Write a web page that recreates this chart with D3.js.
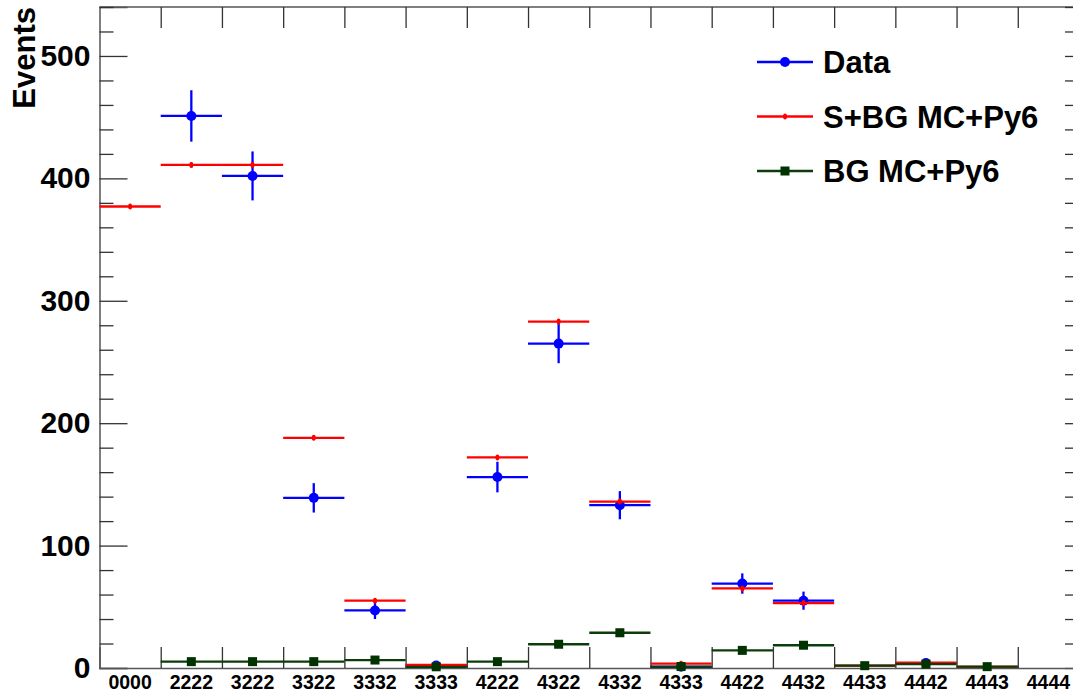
<!DOCTYPE html>
<html>
<head>
<meta charset="utf-8">
<script src="https://cdn.jsdelivr.net/npm/d3@7"></script>
<style>
  body { margin: 0; background: #fff; }
  svg { display: block; font-family: 'Liberation Sans', Arial, sans-serif; }
</style>
</head>
<body>
<div id="chart"></div>
<script>
const categories = ['0000', '2222', '3222', '3322', '3332', '3333', '4222', '4322',
  '4332', '4333', '4422', '4432', '4433', '4442', '4443', '4444'];

// Data (blue)
const dataValues = [null, 451, 402, 139, 47, 2, 156, 265, 133, 1, 69, 55, null, 4, null, null];
const dataErrors = [0, 21, 20, 12, 7, 1.4, 12.5, 16, 11.5, 1, 8.3, 7.4, 0, 2, 0, 0];

// S+BG MC+Py6 (red)
const sbgValues = [377, 411, 411, 188, 55, 2.5, 172, 283, 136, 3.5, 65, 53, 2, 4.3, 1, null];
const sbgErrors = [1.5, 2, 2, 1.5, 1, 0.3, 1.5, 2, 1.5, 0.3, 1, 1, 0.3, 0.3, 0.2, 0];

// BG MC+Py6 (dark green)
const bgValues = [null, 5.2, 5.2, 5.2, 6.5, 1, 5.2, 19.4, 28.8, 1.2, 14.4, 18.6, 1.9, 3.2, 1.1, null];

const yMajorTicks = [0, 100, 200, 300, 400, 500];

const width = 1073, height = 698;
const plotLeft = 99.5, plotRight = 1079, plotTop = 7, plotBottom = 668;

const svg = d3.select('#chart').append('svg')
  .attr('width', width).attr('height', height);

const x = d3.scaleLinear().domain([0, categories.length]).range([plotLeft, plotRight]);
const xBand = d3.scaleBand().domain(categories).range([plotLeft, plotRight]).padding(0);
const y = d3.scaleLinear().domain([0, 540]).range([plotBottom, plotTop]);

const yMinorTicks = d3.range(0, 541, 20).filter(v => v % 100 !== 0);
const edges = d3.range(1, categories.length);
const axisColor = '#555';

// frame line on top
svg.append('line').attr('x1', plotLeft).attr('x2', plotRight).attr('y1', plotTop).attr('y2', plotTop)
  .attr('stroke', axisColor).attr('stroke-width', 1.5);

// left axis: major with labels, minor without
const yAxis = svg.append('g').attr('class', 'y-axis')
  .attr('transform', `translate(${plotLeft},0)`)
  .call(d3.axisLeft(y).tickValues(yMajorTicks).tickSize(-28).tickPadding(9));
yAxis.select('.domain').attr('stroke', axisColor).attr('stroke-width', 1.5);
yAxis.selectAll('line').attr('stroke', '#333').attr('stroke-width', 1.3);
yAxis.selectAll('text')
  .style('font-size', '30px').style('font-weight', 'bold').attr('fill', '#000');

const yMinor = svg.append('g')
  .attr('transform', `translate(${plotLeft},0)`)
  .call(d3.axisLeft(y).tickValues(yMinorTicks).tickSize(-14).tickFormat(''));
yMinor.select('.domain').remove();
yMinor.selectAll('line').attr('stroke', '#333').attr('stroke-width', 1.3);

// right axis ticks
const yRight = svg.append('g')
  .attr('transform', `translate(${plotRight},0)`)
  .call(d3.axisRight(y).tickValues(d3.range(0, 541, 20)).tickSize(-14).tickFormat(''));
yRight.select('.domain').attr('stroke', axisColor);
yRight.selectAll('line').attr('stroke', '#333').attr('stroke-width', 1.3);

// bottom axis: edge ticks + centered category labels
const xEdges = svg.append('g')
  .attr('transform', `translate(0,${plotBottom})`)
  .call(d3.axisBottom(x).tickValues(edges).tickSize(-21).tickFormat(''));
xEdges.select('.domain').attr('stroke', axisColor).attr('stroke-width', 1.5);
xEdges.selectAll('line').attr('stroke', '#333').attr('stroke-width', 1.3);

const xLabels = svg.append('g')
  .attr('transform', `translate(0,${plotBottom})`)
  .call(d3.axisBottom(xBand).tickSize(0).tickPadding(7));
xLabels.select('.domain').remove();
xLabels.selectAll('text')
  .style('font-size', '19.5px').style('font-weight', 'bold').attr('fill', '#000');

// top edge ticks
const xTop = svg.append('g')
  .attr('transform', `translate(0,${plotTop})`)
  .call(d3.axisTop(x).tickValues(edges).tickSize(-21).tickFormat(''));
xTop.select('.domain').remove();
xTop.selectAll('line').attr('stroke', '#333').attr('stroke-width', 1.3);

// y title
svg.append('text')
  .attr('transform', `translate(35,${plotTop}) rotate(-90)`)
  .attr('text-anchor', 'end')
  .style('font-size', '31px').style('font-weight', 'bold')
  .text('Events');

function drawSeries(values, errors, color, marker) {
  const g = svg.append('g');
  values.forEach((v, i) => {
    if (v == null) return;
    const cx = x(i + 0.5);
    g.append('line')
      .attr('x1', x(i)).attr('x2', x(i + 1))
      .attr('y1', y(v)).attr('y2', y(v))
      .attr('stroke', color).attr('stroke-width', 2.3);
    const e = errors ? errors[i] : 0;
    if (e > 0) {
      g.append('line')
        .attr('x1', cx).attr('x2', cx)
        .attr('y1', y(v + e)).attr('y2', y(Math.max(0, v - e)))
        .attr('stroke', color).attr('stroke-width', 2.3);
    }
    marker(g, cx, y(v));
  });
}

const markers = {
  circle: (g, cx, cy) => g.append('circle').attr('cx', cx).attr('cy', cy).attr('r', 5).attr('fill', '#0000ff'),
  dot: (g, cx, cy) => g.append('ellipse').attr('cx', cx).attr('cy', cy).attr('rx', 2).attr('ry', 3).attr('fill', '#ff0000'),
  square: (g, cx, cy) => g.append('rect').attr('x', cx - 4.5).attr('y', cy - 4.5).attr('width', 9).attr('height', 9).attr('fill', '#003300')
};

drawSeries(dataValues, dataErrors, '#0000ff', markers.circle);
drawSeries(sbgValues, sbgErrors, '#ff0000', markers.dot);
drawSeries(bgValues, null, '#0b3d0b', markers.square);

// legend
const legendItems = [
  { label: 'Data', color: '#0000ff', marker: markers.circle },
  { label: 'S+BG MC+Py6', color: '#ff0000', marker: markers.dot },
  { label: 'BG MC+Py6', color: '#0b3d0b', marker: markers.square }
];
const legend = svg.append('g').attr('transform', 'translate(757,62)');
legendItems.forEach((d, i) => {
  const row = legend.append('g').attr('transform', `translate(0,${i * 54.5})`);
  row.append('line').attr('x1', 0).attr('x2', 56).attr('y1', 0).attr('y2', 0)
    .attr('stroke', d.color).attr('stroke-width', 2.3);
  d.marker(row, 28, 0);
  row.append('text').attr('x', 66).attr('y', 0).attr('dy', '0.36em')
    .style('font-size', '31px').style('font-weight', 'bold')
    .text(d.label);
});
</script>
</body>
</html>
